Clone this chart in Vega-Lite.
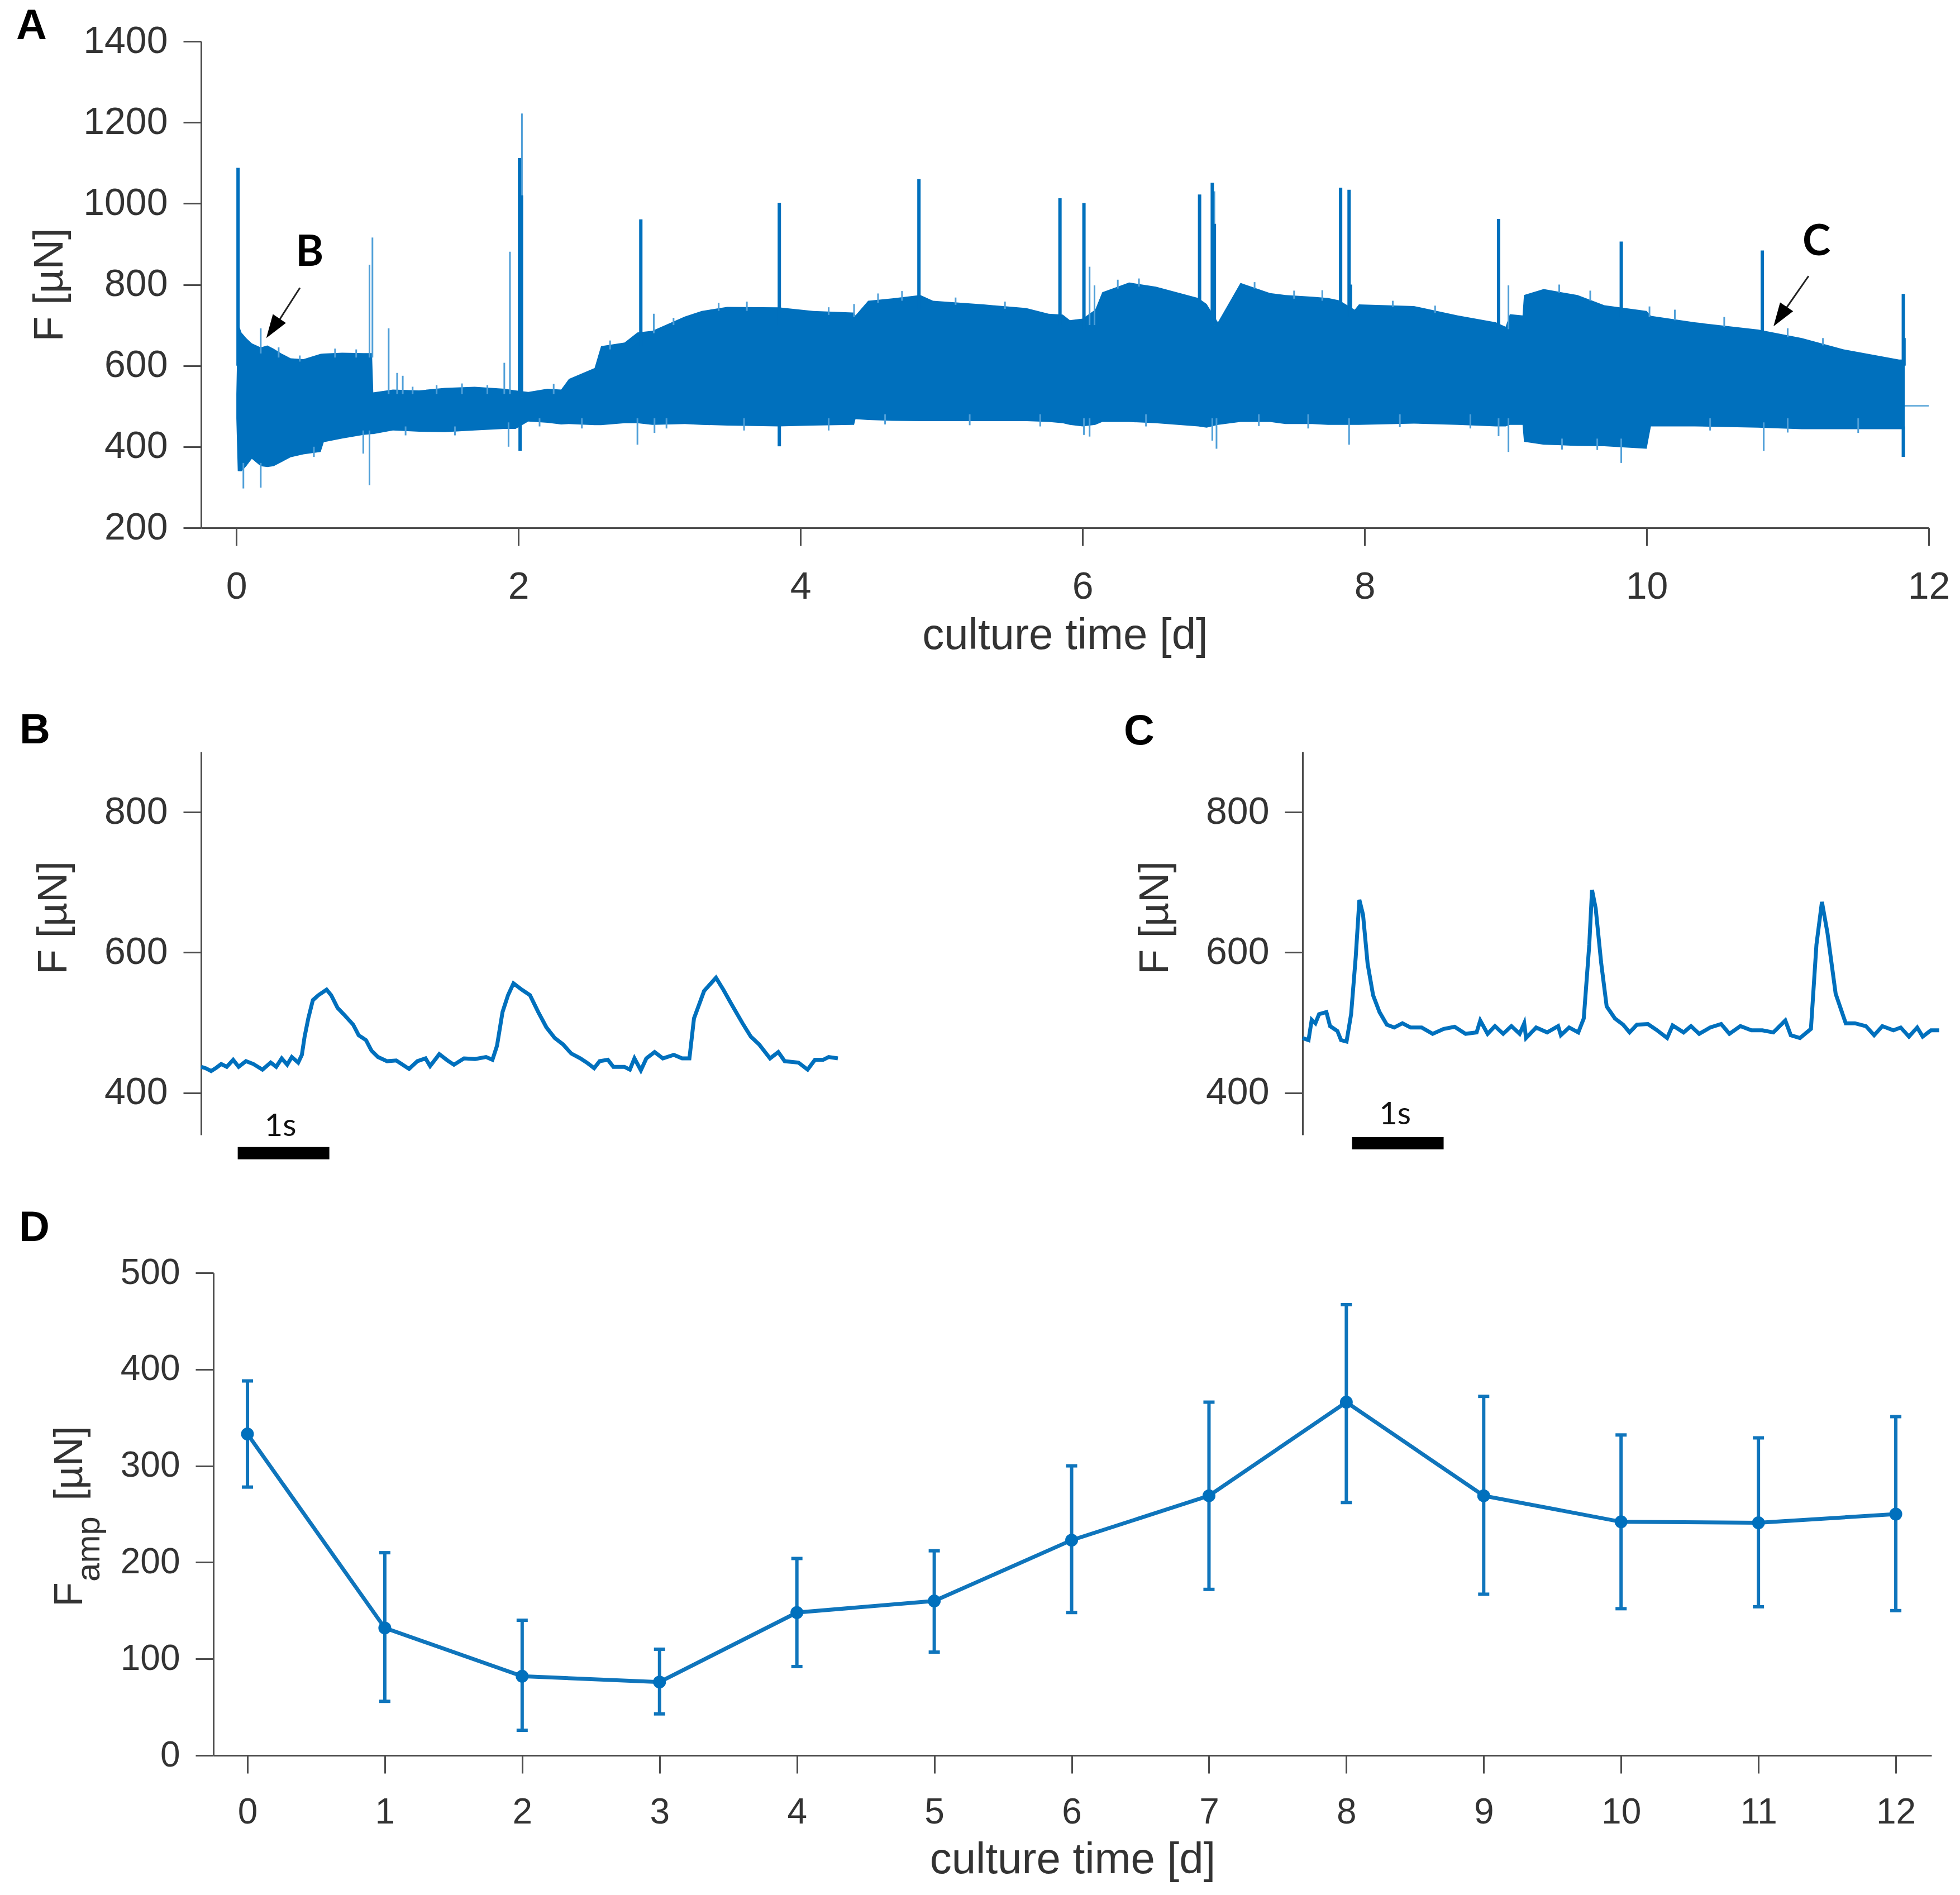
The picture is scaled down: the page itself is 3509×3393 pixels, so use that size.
{
  "$schema": "https://vega.github.io/schema/vega-lite/v6.json",
  "background": "white",
  "padding": {"left": 29, "top": 9, "right": 30, "bottom": 40},
  "config": {
    "view": {"stroke": null},
    "font": "Liberation Sans",
    "axis": {
      "grid": false,
      "domainColor": "#4d4d4d",
      "domainWidth": 3,
      "tickColor": "#4d4d4d",
      "tickWidth": 3,
      "tickSize": 32,
      "labelFont": "Liberation Sans",
      "labelColor": "#333333",
      "labelFontSize": 68,
      "labelPadding": 28,
      "titleFont": "Liberation Sans",
      "titleFontWeight": "normal",
      "titleColor": "#333333",
      "titleFontSize": 74,
      "labelOverlap": false,
      "labelFlush": false,
      "format": "d"
    },
    "title": {"font": "Liberation Sans", "fontWeight": "bold", "fontSize": 76, "color": "black", "anchor": "start", "frame": "group", "baseline": "alphabetic"}
  },
  "datasets": {
    "envelope": [
      {"t":0.0,"lo":470,"hi":530},{"t":0.01,"lo":340,"hi":708},{"t":0.036,"lo":339,"hi":682},{"t":0.07,"lo":352,"hi":668},{"t":0.11,"lo":370,"hi":655},{"t":0.173,"lo":352,"hi":645},{"t":0.22,"lo":350,"hi":650},{"t":0.264,"lo":352,"hi":642},{"t":0.32,"lo":362,"hi":630},{"t":0.385,"lo":374,"hi":618},{"t":0.476,"lo":381,"hi":616},{"t":0.598,"lo":387,"hi":629},{"t":0.62,"lo":411,"hi":630},{"t":0.75,"lo":420,"hi":632},{"t":0.9,"lo":429,"hi":631},{"t":0.962,"lo":431,"hi":631},{"t":0.971,"lo":431,"hi":534},{"t":1.11,"lo":440,"hi":541},{"t":1.296,"lo":437,"hi":539},{"t":1.478,"lo":436,"hi":545},{"t":1.69,"lo":440,"hi":548},{"t":1.9,"lo":444,"hi":543},{"t":1.98,"lo":444,"hi":539},{"t":2.07,"lo":462,"hi":535},{"t":2.206,"lo":459,"hi":543},{"t":2.303,"lo":455,"hi":541},{"t":2.358,"lo":456,"hi":567},{"t":2.54,"lo":453,"hi":594},{"t":2.586,"lo":453,"hi":648},{"t":2.753,"lo":458,"hi":657},{"t":2.844,"lo":458,"hi":682},{"t":2.95,"lo":454,"hi":686},{"t":3.18,"lo":456,"hi":721},{"t":3.3,"lo":454,"hi":735},{"t":3.48,"lo":452,"hi":745},{"t":3.845,"lo":450,"hi":744},{"t":4.09,"lo":452,"hi":735},{"t":4.38,"lo":454,"hi":731},{"t":4.39,"lo":468,"hi":724},{"t":4.48,"lo":466,"hi":760},{"t":4.65,"lo":464,"hi":766},{"t":4.85,"lo":463,"hi":774},{"t":4.94,"lo":463,"hi":760},{"t":5.3,"lo":463,"hi":751},{"t":5.6,"lo":463,"hi":742},{"t":5.76,"lo":461,"hi":728},{"t":5.86,"lo":458,"hi":726},{"t":5.91,"lo":454,"hi":712},{"t":6.0,"lo":450,"hi":716},{"t":6.09,"lo":454,"hi":738},{"t":6.14,"lo":461,"hi":781},{"t":6.33,"lo":461,"hi":805},{"t":6.52,"lo":458,"hi":795},{"t":6.82,"lo":450,"hi":767},{"t":6.88,"lo":447,"hi":752},{"t":6.96,"lo":454,"hi":707},{"t":7.12,"lo":461,"hi":804},{"t":7.33,"lo":461,"hi":779},{"t":7.44,"lo":456,"hi":774},{"t":7.63,"lo":456,"hi":770},{"t":7.74,"lo":454,"hi":767},{"t":7.82,"lo":454,"hi":761},{"t":7.93,"lo":454,"hi":738},{"t":7.96,"lo":454,"hi":751},{"t":8.35,"lo":457,"hi":747},{"t":8.66,"lo":454,"hi":724},{"t":8.93,"lo":450,"hi":707},{"t":9.0,"lo":450,"hi":696},{"t":9.03,"lo":454,"hi":727},{"t":9.12,"lo":454,"hi":724},{"t":9.13,"lo":412,"hi":774},{"t":9.27,"lo":405,"hi":789},{"t":9.51,"lo":402,"hi":774},{"t":9.7,"lo":401,"hi":749},{"t":10.0,"lo":395,"hi":735},{"t":10.03,"lo":450,"hi":723},{"t":10.34,"lo":450,"hi":707},{"t":10.79,"lo":447,"hi":689},{"t":11.1,"lo":443,"hi":668},{"t":11.4,"lo":443,"hi":640},{"t":11.79,"lo":443,"hi":615},{"t":11.83,"lo":443,"hi":615}
    ],
    "spikesStrong": [
      {"t":0.012,"lo":600,"hi":1088},{"t":2.008,"lo":520,"hi":1112},{"t":2.022,"lo":520,"hi":1020},{"t":2.868,"lo":650,"hi":961},{"t":3.85,"lo":700,"hi":1002},{"t":4.84,"lo":740,"hi":1060},{"t":5.84,"lo":700,"hi":1013},{"t":6.01,"lo":690,"hi":1001},{"t":6.83,"lo":740,"hi":1022},{"t":6.92,"lo":700,"hi":1051},{"t":6.935,"lo":700,"hi":950},{"t":7.83,"lo":740,"hi":1039},{"t":7.89,"lo":720,"hi":1034},{"t":7.9,"lo":720,"hi":800},{"t":8.95,"lo":690,"hi":962},{"t":9.82,"lo":720,"hi":906},{"t":10.82,"lo":670,"hi":884},{"t":11.82,"lo":600,"hi":777},{"t":11.825,"lo":600,"hi":668},{"t":2.012,"lo":390,"hi":460},{"t":3.85,"lo":401,"hi":460},{"t":11.82,"lo":375,"hi":450}
    ],
    "spikesFaint": [
      {"t":0.173,"lo":630,"hi":692},{"t":0.944,"lo":620,"hi":849},{"t":0.965,"lo":620,"hi":916},{"t":1.08,"lo":530,"hi":692},{"t":1.14,"lo":530,"hi":582},{"t":1.18,"lo":530,"hi":575},{"t":1.9,"lo":530,"hi":607},{"t":1.94,"lo":530,"hi":881},{"t":2.025,"lo":520,"hi":1222},{"t":2.96,"lo":680,"hi":728},{"t":4.38,"lo":720,"hi":752},{"t":6.05,"lo":700,"hi":844},{"t":6.085,"lo":700,"hi":798},{"t":6.935,"lo":700,"hi":1030},{"t":7.7,"lo":760,"hi":786},{"t":9.02,"lo":690,"hi":798},{"t":10.02,"lo":720,"hi":746},{"t":0.05,"lo":297,"hi":360},{"t":0.173,"lo":299,"hi":360},{"t":0.944,"lo":305,"hi":440},{"t":0.9,"lo":383,"hi":440},{"t":1.93,"lo":400,"hi":460},{"t":2.844,"lo":405,"hi":470},{"t":2.965,"lo":434,"hi":470},{"t":6.01,"lo":429,"hi":470},{"t":6.05,"lo":425,"hi":470},{"t":6.92,"lo":415,"hi":470},{"t":6.95,"lo":395,"hi":470},{"t":7.89,"lo":405,"hi":470},{"t":8.95,"lo":426,"hi":470},{"t":9.02,"lo":387,"hi":470},{"t":9.82,"lo":360,"hi":420},{"t":10.83,"lo":390,"hi":460},
      {"t":0.3,"lo":620,"hi":645},{"t":0.45,"lo":610,"hi":625},{"t":0.7,"lo":620,"hi":642},{"t":0.85,"lo":620,"hi":640},{"t":1.25,"lo":530,"hi":548},{"t":1.42,"lo":530,"hi":552},{"t":1.6,"lo":530,"hi":556},{"t":1.78,"lo":530,"hi":552},{"t":2.25,"lo":530,"hi":555},{"t":2.65,"lo":640,"hi":662},{"t":3.1,"lo":700,"hi":718},{"t":3.42,"lo":735,"hi":755},{"t":3.62,"lo":735,"hi":758},{"t":4.2,"lo":725,"hi":744},{"t":4.55,"lo":755,"hi":778},{"t":4.72,"lo":760,"hi":784},{"t":5.1,"lo":750,"hi":768},{"t":5.45,"lo":740,"hi":758},{"t":6.25,"lo":790,"hi":812},{"t":6.4,"lo":795,"hi":815},{"t":7.22,"lo":790,"hi":806},{"t":7.5,"lo":765,"hi":785},{"t":8.2,"lo":745,"hi":760},{"t":8.5,"lo":730,"hi":748},{"t":9.38,"lo":780,"hi":800},{"t":9.6,"lo":760,"hi":785},{"t":10.2,"lo":712,"hi":738},{"t":10.55,"lo":695,"hi":720},{"t":11.0,"lo":670,"hi":692},{"t":11.25,"lo":650,"hi":668},
      {"t":0.55,"lo":375,"hi":400},{"t":1.2,"lo":428,"hi":450},{"t":1.55,"lo":428,"hi":450},{"t":2.15,"lo":450,"hi":470},{"t":2.45,"lo":445,"hi":470},{"t":3.05,"lo":445,"hi":470},{"t":3.6,"lo":440,"hi":470},{"t":4.2,"lo":440,"hi":470},{"t":4.6,"lo":455,"hi":480},{"t":5.2,"lo":453,"hi":480},{"t":5.7,"lo":450,"hi":480},{"t":6.45,"lo":450,"hi":480},{"t":7.25,"lo":451,"hi":480},{"t":7.6,"lo":445,"hi":480},{"t":8.25,"lo":448,"hi":480},{"t":8.75,"lo":445,"hi":480},{"t":9.4,"lo":393,"hi":420},{"t":9.65,"lo":392,"hi":420},{"t":10.45,"lo":440,"hi":470},{"t":11.0,"lo":435,"hi":470},{"t":11.5,"lo":434,"hi":470}
    ],
    "traceB": [
      {"s":0,"F":437},{"s":0.05,"F":435},{"s":0.11,"F":431},{"s":0.17,"F":436},{"s":0.22,"F":441},{"s":0.28,"F":437},{"s":0.35,"F":447},{"s":0.41,"F":437},{"s":0.49,"F":445},{"s":0.57,"F":441},{"s":0.67,"F":433},{"s":0.76,"F":443},{"s":0.82,"F":437},{"s":0.88,"F":449},{"s":0.94,"F":440},{"s":0.99,"F":451},{"s":1.06,"F":443},{"s":1.1,"F":454},{"s":1.13,"F":480},{"s":1.17,"F":506},{"s":1.22,"F":532},{"s":1.28,"F":539},{"s":1.37,"F":547},{"s":1.42,"F":539},{"s":1.49,"F":521},{"s":1.57,"F":510},{"s":1.66,"F":497},{"s":1.72,"F":482},{"s":1.8,"F":475},{"s":1.86,"F":460},{"s":1.93,"F":451},{"s":2.03,"F":445},{"s":2.13,"F":446},{"s":2.27,"F":434},{"s":2.36,"F":445},{"s":2.45,"F":449},{"s":2.5,"F":438},{"s":2.6,"F":455},{"s":2.69,"F":446},{"s":2.76,"F":440},{"s":2.87,"F":449},{"s":2.99,"F":448},{"s":3.11,"F":451},{"s":3.18,"F":447},{"s":3.23,"F":467},{"s":3.29,"F":515},{"s":3.35,"F":539},{"s":3.41,"F":556},{"s":3.5,"F":547},{"s":3.59,"F":539},{"s":3.68,"F":515},{"s":3.77,"F":493},{"s":3.86,"F":478},{"s":3.95,"F":469},{"s":4.04,"F":456},{"s":4.14,"F":449},{"s":4.21,"F":443},{"s":4.29,"F":435},{"s":4.35,"F":445},{"s":4.44,"F":447},{"s":4.5,"F":437},{"s":4.62,"F":437},{"s":4.68,"F":433},{"s":4.73,"F":449},{"s":4.8,"F":432},{"s":4.86,"F":449},{"s":4.95,"F":458},{"s":5.04,"F":449},{"s":5.16,"F":454},{"s":5.25,"F":449},{"s":5.33,"F":449},{"s":5.38,"F":506},{"s":5.49,"F":545},{"s":5.62,"F":564},{"s":5.7,"F":547},{"s":5.79,"F":526},{"s":5.91,"F":499},{"s":6.0,"F":480},{"s":6.09,"F":469},{"s":6.21,"F":449},{"s":6.3,"F":458},{"s":6.37,"F":445},{"s":6.52,"F":443},{"s":6.62,"F":433},{"s":6.7,"F":447},{"s":6.79,"F":447},{"s":6.85,"F":451},{"s":6.95,"F":449}
    ],
    "traceC": [
      {"s":0,"F":478},{"s":0.065,"F":475},{"s":0.1,"F":504},{"s":0.14,"F":499},{"s":0.18,"F":512},{"s":0.26,"F":515},{"s":0.3,"F":495},{"s":0.38,"F":488},{"s":0.42,"F":475},{"s":0.48,"F":473},{"s":0.53,"F":512},{"s":0.58,"F":593},{"s":0.62,"F":675},{"s":0.66,"F":654},{"s":0.71,"F":584},{"s":0.77,"F":539},{"s":0.84,"F":515},{"s":0.92,"F":497},{"s":1.0,"F":493},{"s":1.09,"F":499},{"s":1.18,"F":493},{"s":1.3,"F":493},{"s":1.42,"F":484},{"s":1.54,"F":491},{"s":1.66,"F":494},{"s":1.78,"F":484},{"s":1.9,"F":486},{"s":1.94,"F":503},{"s":2.02,"F":484},{"s":2.1,"F":495},{"s":2.19,"F":484},{"s":2.28,"F":495},{"s":2.37,"F":484},{"s":2.42,"F":499},{"s":2.44,"F":478},{"s":2.55,"F":493},{"s":2.67,"F":486},{"s":2.79,"F":495},{"s":2.82,"F":482},{"s":2.91,"F":493},{"s":3.01,"F":486},{"s":3.07,"F":506},{"s":3.13,"F":611},{"s":3.16,"F":689},{"s":3.2,"F":663},{"s":3.26,"F":585},{"s":3.32,"F":523},{"s":3.41,"F":506},{"s":3.5,"F":497},{"s":3.57,"F":486},{"s":3.65,"F":497},{"s":3.77,"F":498},{"s":3.86,"F":490},{"s":3.98,"F":478},{"s":4.04,"F":496},{"s":4.16,"F":486},{"s":4.24,"F":495},{"s":4.33,"F":484},{"s":4.45,"F":493},{"s":4.57,"F":498},{"s":4.66,"F":484},{"s":4.78,"F":495},{"s":4.9,"F":489},{"s":5.02,"F":489},{"s":5.14,"F":486},{"s":5.27,"F":503},{"s":5.33,"F":482},{"s":5.43,"F":478},{"s":5.55,"F":491},{"s":5.61,"F":611},{"s":5.67,"F":672},{"s":5.73,"F":628},{"s":5.82,"F":541},{"s":5.93,"F":499},{"s":6.03,"F":499},{"s":6.15,"F":495},{"s":6.24,"F":482},{"s":6.33,"F":495},{"s":6.45,"F":489},{"s":6.53,"F":493},{"s":6.62,"F":480},{"s":6.71,"F":493},{"s":6.77,"F":480},{"s":6.86,"F":489},{"s":6.95,"F":489}
    ],
    "amplitude": [
      {"day":0,"mean":333,"low":278,"high":388},{"day":1,"mean":132,"low":56,"high":210},{"day":2,"mean":82,"low":26,"high":140},{"day":3,"mean":76,"low":43,"high":110},{"day":4,"mean":148,"low":92,"high":204},{"day":5,"mean":160,"low":107,"high":212},{"day":6,"mean":223,"low":148,"high":300},{"day":7,"mean":269,"low":172,"high":366},{"day":8,"mean":366,"low":262,"high":467},{"day":9,"mean":269,"low":167,"high":372},{"day":10,"mean":242,"low":152,"high":332},{"day":11,"mean":241,"low":154,"high":329},{"day":12,"mean":250,"low":150,"high":351}
    ]
  },
  "bounds": "flush",
  "spacing": 2205,
  "vconcat": [
    {
      "bounds": "flush",
      "spacing": 401,
      "vconcat": [
        {
          "width": 3093,
          "height": 871,
          "title": {"text": "A", "dx": -331, "offset": -46},
          "encoding": {
            "x": {"field": "t", "type": "quantitative", "scale": {"domain": [-0.25, 12], "nice": false}, "axis": {"values": [0,2,4,6,8,10,12], "title": "culture time [d]", "labelPadding": 40, "titlePadding": 14, "titleFontSize": 78}},
            "y": {"field": "hi", "type": "quantitative", "scale": {"domain": [200, 1400], "nice": false, "zero": false}, "axis": {"values": [200,400,600,800,1000,1200,1400], "title": "F [µN]", "titlePadding": 33}}
          },
          "layer": [
            {"data": {"name": "envelope"}, "mark": {"type": "area", "color": "#0070bd", "opacity": 1}, "encoding": {"y2": {"field": "lo"}}},
            {"data": {"name": "spikesFaint"}, "mark": {"type": "rule", "color": "#4f9fd8", "strokeWidth": 3}, "encoding": {"y2": {"field": "lo"}}},
            {"data": {"name": "spikesStrong"}, "mark": {"type": "rule", "color": "#0070bd", "strokeWidth": 6}, "encoding": {"y2": {"field": "lo"}}},
            {"data": {"values": [{"t": 11.83, "hi": 501, "end": 12}]}, "mark": {"type": "rule", "color": "#6db0dd", "strokeWidth": 3}, "encoding": {"x2": {"field": "end"}}},
            {"data": {"values": [{"t": 0.451, "hi": 792, "t2": 0.309, "lo": 715}, {"t": 11.148, "hi": 821, "t2": 10.994, "lo": 744}]}, "mark": {"type": "rule", "color": "#222222", "strokeWidth": 3}, "encoding": {"x2": {"field": "t2"}, "y2": {"field": "lo"}}},
            {"data": {"values": [{"t": 0.259, "hi": 692}, {"t": 10.946, "hi": 721}]}, "mark": {"type": "point", "shape": "M0,-1L0.67,1L-0.67,1Z", "filled": true, "color": "black", "opacity": 1, "size": 1764, "angle": 214}},
            {"data": {"values": [{"t": 0.519, "hi": 878, "label": "B"}, {"t": 11.204, "hi": 904, "label": "C"}]}, "mark": {"type": "text", "font": "Lato", "fontWeight": "bold", "fontSize": 76, "color": "black", "align": "center", "baseline": "middle"}, "encoding": {"text": {"field": "label"}}}
          ]
        },
        {
          "bounds": "flush",
          "spacing": 832,
          "hconcat": [
            {
              "width": 1140,
              "height": 686,
              "title": {"text": "B", "dx": -325, "offset": -1},
              "encoding": {
                "x": {"field": "s", "type": "quantitative", "scale": {"domain": [0, 6.95], "nice": false}, "axis": null},
                "y": {"field": "F", "type": "quantitative", "scale": {"domain": [340, 886], "nice": false, "zero": false}, "axis": {"values": [400,600,800], "title": "F [µN]", "titlePadding": 52, "titleY": 297}}
              },
              "layer": [
                {"data": {"name": "traceB"}, "mark": {"type": "line", "color": "#0070bd", "strokeWidth": 7}},
                {"data": {"values": [{"s": 0.4, "s2": 1.4, "F": 314}]}, "mark": {"type": "rule", "color": "black", "strokeWidth": 22}, "encoding": {"x2": {"field": "s2"}}},
                {"data": {"values": [{"s": 0.866, "F": 352, "label": "1s"}]}, "mark": {"type": "text", "font": "Lato", "fontSize": 56, "color": "#111111", "align": "center", "baseline": "middle"}, "encoding": {"text": {"field": "label"}}}
              ]
            },
            {
              "width": 1143,
              "height": 686,
              "title": {"text": "C", "dx": -320, "offset": -3},
              "encoding": {
                "x": {"field": "s", "type": "quantitative", "scale": {"domain": [0, 6.97], "nice": false}, "axis": null},
                "y": {"field": "F", "type": "quantitative", "scale": {"domain": [340, 886], "nice": false, "zero": false}, "axis": {"values": [400,600,800], "title": "F [µN]", "titlePadding": 52, "titleY": 297}}
              },
              "layer": [
                {"data": {"name": "traceC"}, "mark": {"type": "line", "color": "#0070bd", "strokeWidth": 7}},
                {"data": {"values": [{"s": 0.54, "s2": 1.54, "F": 328}]}, "mark": {"type": "rule", "color": "black", "strokeWidth": 22}, "encoding": {"x2": {"field": "s2"}}},
                {"data": {"values": [{"s": 1.01, "F": 369, "label": "1s"}]}, "mark": {"type": "text", "font": "Lato", "fontSize": 56, "color": "#111111", "align": "center", "baseline": "middle"}, "encoding": {"text": {"field": "label"}}}
              ]
            }
          ]
        }
      ]
    },
    {
      "bounds": "flush",
      "spacing": 0,
      "hconcat": [
        {
          "width": 22,
          "height": 864,
          "data": {"values": [{"blank": 0}]},
          "mark": {"type": "point", "opacity": 0},
          "encoding": {}
        },
        {
          "width": 3076,
          "height": 864,
          "title": {"text": "D", "dx": -348, "offset": 9},
          "data": {"name": "amplitude"},
          "encoding": {
            "x": {"field": "day", "type": "quantitative", "scale": {"domain": [-0.248, 12.26], "nice": false}, "axis": {"values": [0,1,2,3,4,5,6,7,8,9,10,11,12], "title": "culture time [d]", "labelPadding": 38, "labelFontSize": 64, "titlePadding": 14, "titleFontSize": 78}}
          },
          "layer": [
            {"mark": {"type": "rule", "color": "#0f75bc", "strokeWidth": 6}, "encoding": {"y": {"field": "low", "type": "quantitative", "scale": {"domain": [0, 500], "nice": false}, "axis": {"values": [0,100,200,300,400,500], "title": null, "labelFontSize": 64}}, "y2": {"field": "high"}}},
            {"mark": {"type": "tick", "orient": "horizontal", "color": "#0f75bc", "size": 20, "thickness": 6, "opacity": 1}, "encoding": {"y": {"field": "low", "type": "quantitative"}}},
            {"mark": {"type": "tick", "orient": "horizontal", "color": "#0f75bc", "size": 20, "thickness": 6, "opacity": 1}, "encoding": {"y": {"field": "high", "type": "quantitative"}}},
            {"mark": {"type": "line", "color": "#0f75bc", "strokeWidth": 7}, "encoding": {"y": {"field": "mean", "type": "quantitative"}}},
            {"mark": {"type": "point", "filled": true, "color": "#0070bd", "opacity": 1, "size": 530}, "encoding": {"y": {"field": "mean", "type": "quantitative"}}},
            {"data": {"values": [{"day": -1.203, "pos": 154, "label": "F"}]}, "mark": {"type": "text", "angle": 270, "fontSize": 72, "color": "#333333", "align": "left", "baseline": "alphabetic"}, "encoding": {"y": {"field": "pos", "type": "quantitative"}, "text": {"field": "label"}}},
            {"data": {"values": [{"day": -1.077, "pos": 180, "label": "amp"}]}, "mark": {"type": "text", "angle": 270, "fontSize": 60, "color": "#333333", "align": "left", "baseline": "alphabetic"}, "encoding": {"y": {"field": "pos", "type": "quantitative"}, "text": {"field": "label"}}},
            {"data": {"values": [{"day": -1.203, "pos": 264, "label": "[µN]"}]}, "mark": {"type": "text", "angle": 270, "fontSize": 72, "color": "#333333", "align": "left", "baseline": "alphabetic"}, "encoding": {"y": {"field": "pos", "type": "quantitative"}, "text": {"field": "label"}}}
          ]
        }
      ]
    }
  ]
}
